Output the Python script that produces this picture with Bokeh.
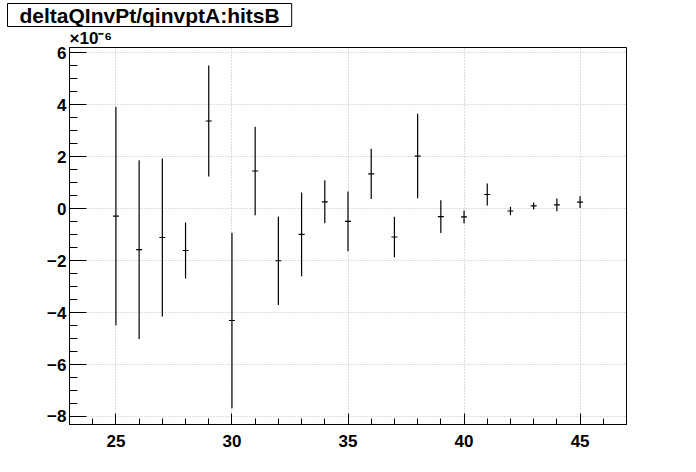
from bokeh.plotting import figure
from bokeh.models import Title, SingleIntervalTicker, Range1d
from bokeh.embed import file_html
from bokeh.resources import INLINE

# data (y values in units of 1e-6)
hits = list(range(25, 46))
mean_vals = [-0.285, -1.58, -1.11, -1.61, 3.375, -4.305, 1.45, -2.005, -0.99, 0.265,
             -0.49, 1.34, -1.09, 2.025, -0.31, -0.315, 0.545, -0.09, 0.105, 0.145, 0.255]
err_vals = [4.20, 3.44, 3.04, 1.08, 2.14, 3.375, 1.70, 1.705, 1.61, 0.825,
            1.15, 0.97, 0.78, 1.625, 0.63, 0.245, 0.425, 0.16, 0.135, 0.245, 0.225]
x_ticks = [25, 30, 35, 40, 45]
y_ticks = [-8, -6, -4, -2, 0, 2, 4, 6]
title_text = "deltaQInvPt/qinvptA:hitsB"
exponent_text = "\u00d710\u207b\u2076"

FONT = "Liberation Sans"

p = figure(width=680, height=456, output_backend="svg", toolbar_location=None,
           x_range=Range1d(23, 47), y_range=Range1d(-8.308, 6.204),
           min_border_left=69, min_border_right=54, min_border_top=47, min_border_bottom=32)
p.background_fill_color = "white"
p.border_fill_color = "white"
p.outline_line_color = "black"
p.outline_line_width = 1

# axes
p.xaxis.ticker = SingleIntervalTicker(interval=5, num_minor_ticks=5)
p.yaxis.ticker = SingleIntervalTicker(interval=2, num_minor_ticks=4)
for ax in (p.xaxis[0], p.yaxis[0]):
    ax.axis_line_color = "black"
    ax.major_tick_line_color = "black"
    ax.minor_tick_line_color = "black"
    ax.major_tick_out = 0
    ax.minor_tick_out = 0
    ax.major_label_text_font = FONT
    ax.major_label_text_font_style = "bold"
    ax.major_label_text_font_size = "17px"
    ax.major_label_text_color = "black"
p.xaxis.major_tick_in = 11
p.xaxis.minor_tick_in = 6
p.yaxis.major_tick_in = 17
p.yaxis.minor_tick_in = 8
p.xaxis.major_label_standoff = 10
p.yaxis.major_label_standoff = 3
p.yaxis.major_label_overrides = {v: (str(v) if v >= 0 else "\u2212" + str(-v)) for v in y_ticks}
p.xaxis.major_label_overrides = {v: str(v) for v in x_ticks}

p.xgrid.ticker = SingleIntervalTicker(interval=5)
p.ygrid.ticker = SingleIntervalTicker(interval=2)
for g in (p.xgrid[0], p.ygrid[0]):
    g.grid_line_color = "#bdbdbd"
    g.grid_line_dash = "1 2"
    g.grid_line_width = 1

# error bars
lo = [m - e for m, e in zip(mean_vals, err_vals)]
hi = [m + e for m, e in zip(mean_vals, err_vals)]
p.segment(x0=hits, y0=lo, x1=hits, y1=hi, line_color="black", line_width=1.2)
p.scatter(x=hits, y=mean_vals, marker="dash", size=6, line_color="black", line_width=1.2)

# exponent label (closest to the frame)
expo = Title(text=exponent_text)
expo.align = "left"
expo.offset = 0
expo.standoff = 0
expo.text_font = FONT
expo.text_font_style = "bold"
expo.text_font_size = "17px"
expo.text_color = "black"
expo.vertical_align = "bottom"
p.add_layout(expo, "above")

# boxed title (outermost)
p.title.text = title_text
p.title.align = "left"
p.title.offset = -62
p.title.standoff = 0
p.title.text_font = FONT
p.title.text_font_style = "bold"
p.title.text_font_size = "21px"
p.title.text_color = "black"
p.title.background_fill_color = "white"
p.title.border_line_color = "black"
p.title.border_line_width = 1
p.title.padding = dict(left=12, right=12, top=0, bottom=0)

open("out.html", "w").write(file_html(p, INLINE))
